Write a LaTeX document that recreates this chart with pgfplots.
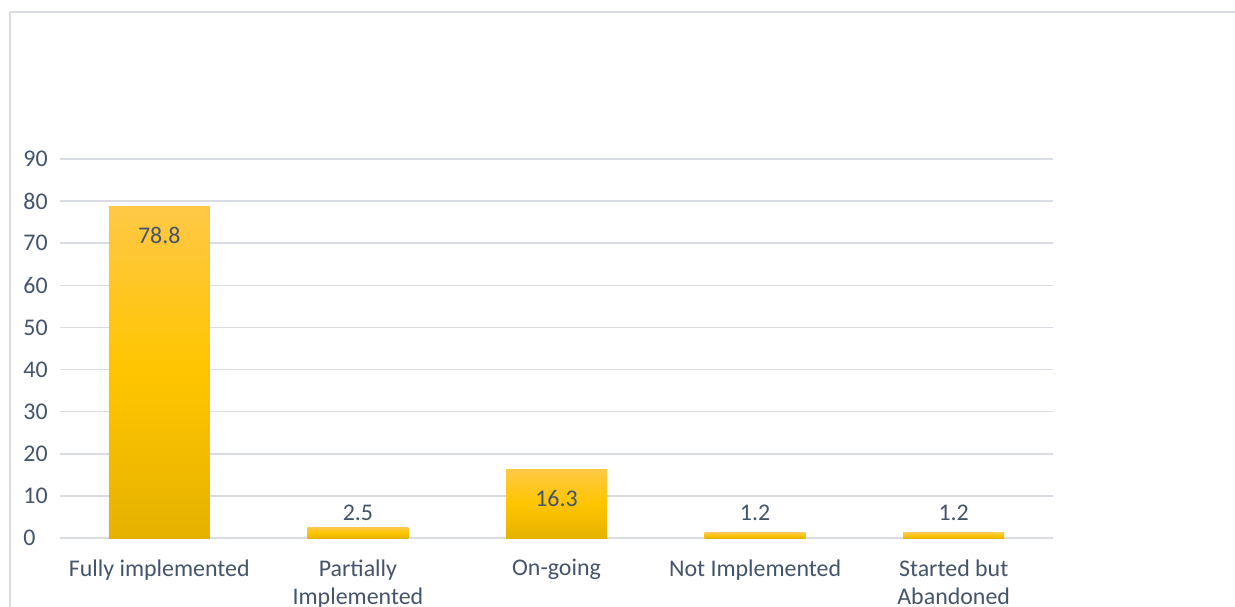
\documentclass[border=0pt]{standalone}
\usepackage{pgfplots}
\pgfplotsset{compat=1.18}
\usepackage{fontspec}
\setmainfont{Carlito}

\definecolor{txt}{HTML}{44546A}
\definecolor{gridc}{HTML}{D9DDE3}
\definecolor{gtop}{HTML}{FFC846}
\definecolor{gmid}{HTML}{FFC500}
\definecolor{gbot}{HTML}{E6B200}

\begin{document}
\begin{tikzpicture}
% page = 1235x607 px at 0.5bp per px, axis origin at px (60,538)
\useasboundingbox (-30bp,-34.5bp) rectangle (587.5bp,269bp);
\fill[white] (-30bp,-34.5bp) rectangle (587.5bp,269bp);
\draw[gridc, line width=0.75bp] (-25bp,-40bp) -- (-25bp,263bp) -- (600bp,263bp);
\begin{axis}[
  at={(0,0)}, anchor=south west,
  scale only axis, width=496.5bp, height=189.5bp,
  xmin=-0.5, xmax=4.5, ymin=0, ymax=90,
  ytick={0,10,...,90}, xtick={0,...,4},
  xticklabels={Fully implemented, {Partially\\Implemented}, On-going, Not Implemented, {Started but\\Abandoned}},
  /pgf/number format/assume math mode=true,
  font=\fontsize{12}{14.5}\selectfont,
  ticklabel style={text=txt},
  xticklabel style={align=center, anchor=north, inner sep=0pt, yshift=-10.5bp},
  yticklabel style={anchor=west, inner sep=0pt, xshift=-18.5bp},
  axis line style={draw=none},
  major tick length=0pt,
  ymajorgrids, grid style={gridc, line width=0.75bp},
  clip=false,
  goldbar/.style={ybar, bar width=50.5bp, bar shift=0pt, draw=none,
    top color=gtop, bottom color=gbot, middle color=gmid},
]
% one plot per bar so each bar gets its own gradient
\addplot[goldbar] coordinates {(0,78.8)};
\addplot[goldbar] coordinates {(1,2.5)};
\addplot[goldbar] coordinates {(2,16.3)};
\addplot[goldbar] coordinates {(3,1.2)};
\addplot[goldbar] coordinates {(4,1.2)};
% data labels
\addplot[only marks, mark=none, nodes near coords,
  every node near coord/.append style={anchor=center, text=txt, yshift=-14.5bp}]
  coordinates {(0,78.8) (2,16.3)};
\addplot[only marks, mark=none, nodes near coords,
  every node near coord/.append style={anchor=center, text=txt, yshift=7.5bp}]
  coordinates {(1,2.5)};
\addplot[only marks, mark=none, nodes near coords,
  every node near coord/.append style={anchor=center, text=txt, yshift=10bp}]
  coordinates {(3,1.2) (4,1.2)};
\end{axis}
\end{tikzpicture}
\end{document}
